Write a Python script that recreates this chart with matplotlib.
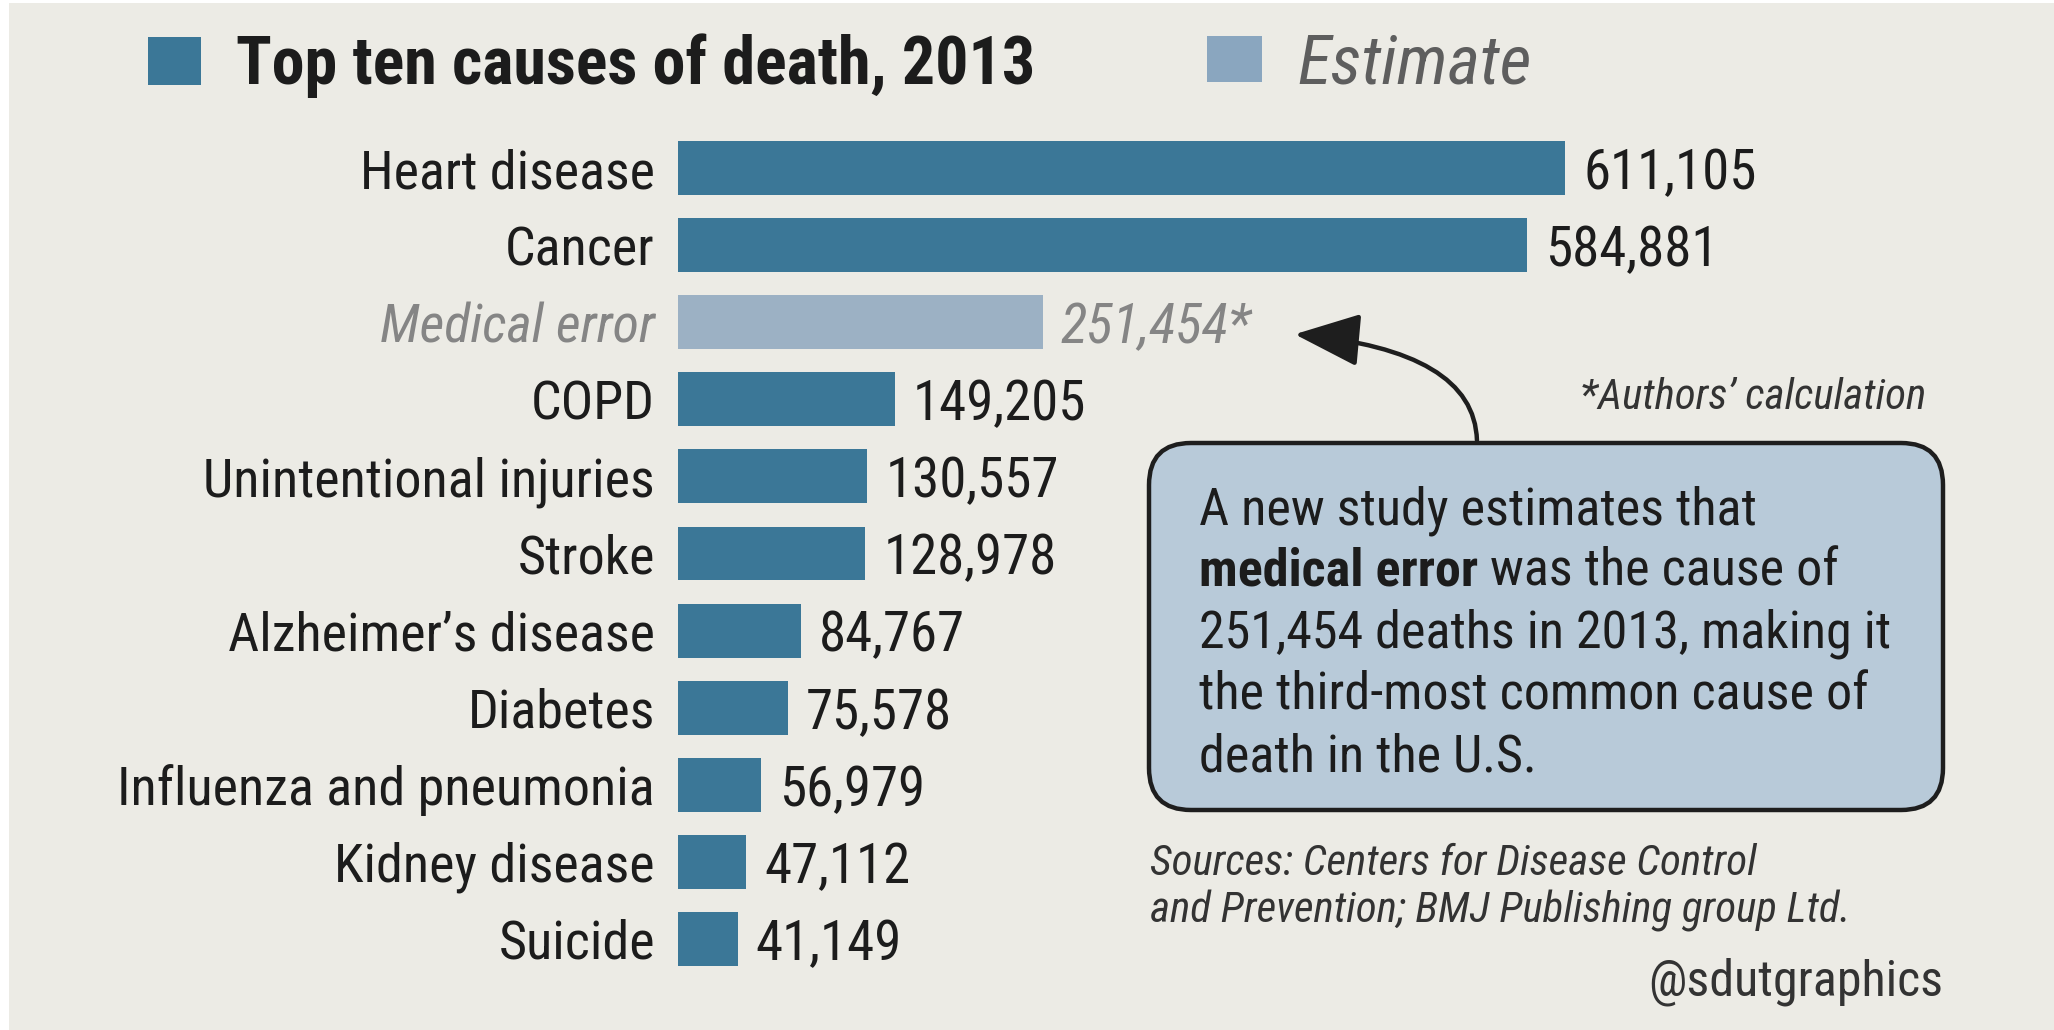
import matplotlib
matplotlib.use("Agg")
import matplotlib.pyplot as plt
from matplotlib import font_manager
from matplotlib.patches import Rectangle, FancyBboxPatch, FancyArrowPatch

# ---- data ----
categories = ["Heart disease", "Cancer", "Medical error", "COPD",
              "Unintentional injuries", "Stroke", "Alzheimer\u2019s disease",
              "Diabetes", "Influenza and pneumonia", "Kidney disease", "Suicide"]
deaths = [611105, 584881, 251454, 149205, 130557, 128978, 84767,
          75578, 56979, 47112, 41149]
is_estimate = [False, False, True, False, False, False, False,
               False, False, False, False]
title_text = "Top ten causes of death, 2013"
estimate_text = "Estimate"
footnote = "*Authors\u2019 calculation"
callout_lines = [
    [("A new study estimates that", "normal")],
    [("medical error", "bold"), (" was the cause of", "normal")],
    [("251,454 deaths in 2013, making it", "normal")],
    [("the third-most common cause of", "normal")],
    [("death in the U.S.", "normal")],
]
sources = ["Sources: Centers for Disease Control",
           "and Prevention; BMJ Publishing group Ltd."]
credit = "@sdutgraphics"

# ---- style ----
BG = "#ecebe5"
BAR = "#3b7797"
EST = "#9cb1c4"
EST_KEY = "#8aa6bf"
BOX = "#b8cad9"
TXT = "#1c1c1c"
GREY = "#858585"

avail = {f.name for f in font_manager.fontManager.ttflist}
FONT = "DejaVu Sans"
for cand in ["Liberation Sans Narrow", "Roboto Condensed", "DejaVu Sans Condensed",
             "Open Sans Condensed", "Liberation Sans", "Roboto"]:
    if cand in avail:
        FONT = cand
        break
plt.rcParams["font.family"] = [FONT, "DejaVu Sans"]

W, H = 2054, 1030
fig = plt.figure(figsize=(W / 100, H / 100), dpi=100)
fig.patch.set_facecolor("white")

# overlay axes in pixel coordinates
ov = fig.add_axes([0, 0, 1, 1])
ov.set_xlim(0, W)
ov.set_ylim(H, 0)
ov.axis("off")
ov.add_patch(Rectangle((9, 3), W, H, facecolor=BG, edgecolor="none", zorder=0))

# bar axes
left_px, right_px = 678, 2000
top_px, bot_px = 129.5, 977.5
ax = fig.add_axes([left_px / W, 1 - bot_px / H, (right_px - left_px) / W,
                   (bot_px - top_px) / H])
ax.patch.set_alpha(0)
ax.set_xlim(0, 611105 * (right_px - left_px) / 887)
ax.set_ylim(len(categories) - 0.5, -0.5)
ax.axis("off")

ypos = list(range(len(categories)))
colors = [EST if e else BAR for e in is_estimate]
ax.barh(ypos, deaths, height=0.70, color=colors, zorder=2)

for i, (cat, v, e) in enumerate(zip(categories, deaths, is_estimate)):
    lab = f"{v:,}" + ("*" if e else "")
    ax.annotate(lab, xy=(v, i), xytext=(18, 0), textcoords="offset pixels",
                ha="left", va="center_baseline", fontsize=39.5,
                color=GREY if e else TXT, style="italic" if e else "normal")
    ax.annotate(cat, xy=(0, i), xytext=(-23, 0), textcoords="offset pixels",
                ha="right", va="center_baseline", fontsize=39,
                color=GREY if e else TXT, style="italic" if e else "normal")

# legend / title
ov.add_patch(Rectangle((148, 37), 53, 48, facecolor=BAR, edgecolor="none", zorder=3))
ov.text(236, 84, title_text, fontsize=47.5, fontweight="bold", color=TXT,
        ha="left", va="baseline", zorder=3)
ov.add_patch(Rectangle((1207, 36), 55, 46, facecolor=EST_KEY, edgecolor="none", zorder=3))
ov.text(1297, 84, estimate_text, fontsize=50, style="italic", fontweight="normal",
        color="#5e5e5e", ha="left", va="baseline", zorder=3)

# footnote
ov.text(1926, 393, footnote, fontsize=31, style="italic", color="#333333",
        ha="right", va="center_baseline", zorder=3)

# callout box
ov.add_patch(FancyBboxPatch((1149, 443), 1943 - 1149, 810 - 443,
                            boxstyle="round,pad=0,rounding_size=42",
                            facecolor=BOX, edgecolor="#1e1e1e", linewidth=3.2,
                            zorder=3))
fig.canvas.draw()
renderer = fig.canvas.get_renderer()
inv = ov.transData.inverted()
base_y = 524
for k, line in enumerate(callout_lines):
    x = 1199
    y = base_y + k * 61.8
    for seg, wgt in line:
        t = ov.text(x, y, seg, fontsize=37.5, fontweight=wgt, color=TXT,
                    ha="left", va="baseline", zorder=4)
        bb = t.get_window_extent(renderer=renderer)
        x = inv.transform((bb.x1, bb.y0))[0]

# arrow
arr = FancyArrowPatch((1477, 443), (1292, 334),
                      connectionstyle="angle3,angleA=90,angleB=-5",
                      arrowstyle="-|>,head_length=1.35,head_width=0.55",
                      mutation_scale=30, linewidth=3.2, color="#1e1e1e",
                      transform=ov.transData, zorder=4)
ov.add_patch(arr)

# sources and credit
for k, s in enumerate(sources):
    ov.text(1150, 859 + k * 47, s, fontsize=31, style="italic", color="#333333",
            ha="left", va="center_baseline", zorder=3)
ov.text(1943, 977, credit, fontsize=36, color="#333333", ha="right",
        va="center_baseline", zorder=3)

fig.savefig("out.png", dpi=100, facecolor=fig.get_facecolor())
